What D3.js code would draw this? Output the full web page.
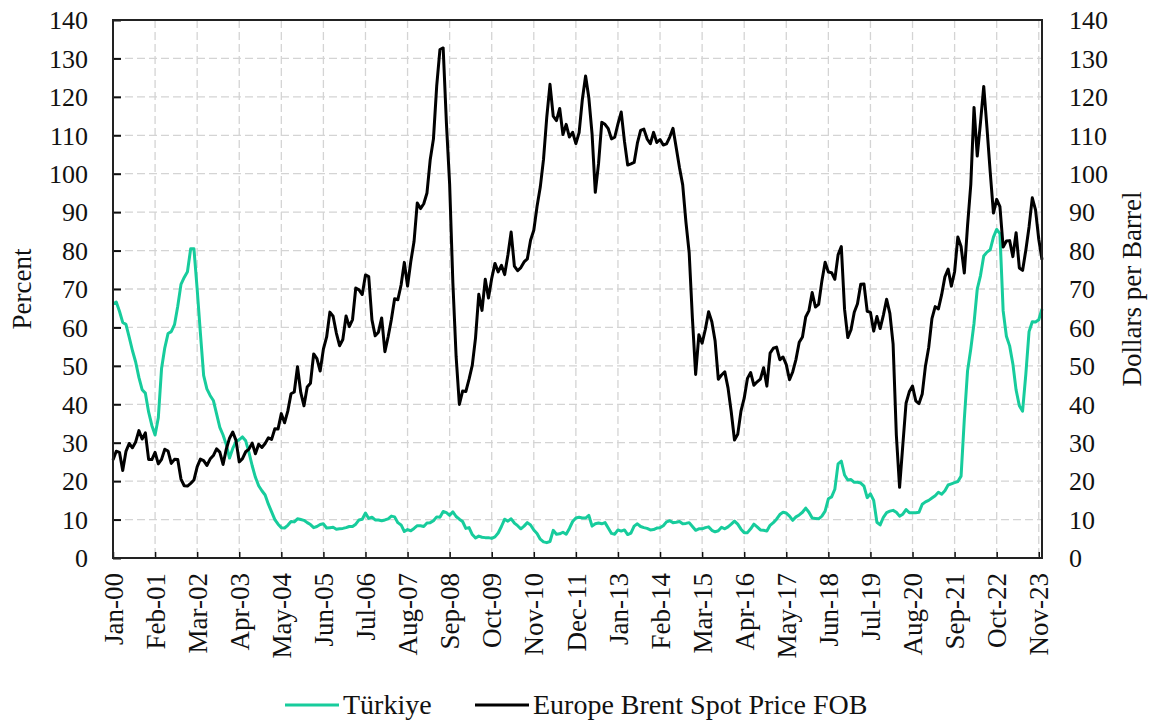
<!DOCTYPE html>
<html>
<head>
<meta charset="utf-8">
<script src="https://cdn.jsdelivr.net/npm/d3@7"></script>
<style>
  body { margin: 0; background: #fff; }
  svg text { font-family: "Liberation Serif", "Times New Roman", serif; fill: #111; }
</style>
</head>
<body>
<div id="graf"></div>
<script>
// monthly data, Jan-2000 .. Dec-2023

// Turkiye CPI inflation, annual % (left axis)
var turkiye = [
  66.1, 66.6, 64.2, 61.3, 60.8, 57.5, 54.0, 51.0, 47.0, 43.8, 42.9, 38.0,
  34.5, 32.0, 36.5, 49.3, 54.7, 58.4, 58.9, 60.7, 65.5, 71.2, 73.0, 74.5,
  80.5, 80.5, 70.0, 58.5, 47.5, 44.0, 42.3, 41.0, 37.5, 34.0, 32.0, 29.5,
  26.0, 28.5, 30.3, 30.8, 31.5, 30.5, 27.5, 24.0, 21.0, 18.8, 17.5, 16.4,
  14.0, 12.0, 10.0, 8.8, 7.9, 7.8, 8.5, 9.5, 9.4, 10.2, 10.0, 9.8,
  9.2, 8.7, 7.9, 8.2, 8.7, 8.9, 7.8, 7.9, 8.0, 7.5, 7.6, 7.7,
  7.9, 8.2, 8.2, 8.8, 9.9, 10.1, 11.7, 10.3, 10.6, 9.9, 9.9, 9.7,
  9.9, 10.2, 10.9, 10.7, 9.2, 8.6, 6.9, 7.4, 7.1, 7.7, 8.4, 8.4,
  8.2, 9.1, 9.2, 9.7, 10.7, 10.6, 12.1, 11.8, 11.1, 12.0, 10.8, 10.1,
  9.5, 7.7, 7.9, 6.1, 5.2, 5.7, 5.4, 5.3, 5.3, 5.1, 5.5, 6.5,
  8.2, 10.1, 9.6, 10.2, 9.1, 8.4, 7.6, 8.3, 9.2, 8.6, 7.3, 6.4,
  4.9, 4.2, 4.0, 4.3, 7.2, 6.2, 6.3, 6.7, 6.2, 7.7, 9.5, 10.4,
  10.6, 10.4, 10.4, 11.1, 8.3, 8.9, 9.1, 8.9, 9.2, 7.8, 6.4, 6.2,
  7.3, 7.0, 7.3, 6.1, 6.5, 8.3, 8.9, 8.2, 7.9, 7.7, 7.3, 7.4,
  7.8, 7.9, 8.4, 9.4, 9.7, 9.2, 9.3, 9.5, 8.9, 9.0, 9.2, 8.2,
  7.2, 7.6, 7.6, 7.9, 8.1, 7.2, 6.8, 7.1, 8.0, 7.6, 8.1, 8.8,
  9.6, 8.8, 7.5, 6.6, 6.6, 7.6, 8.8, 8.1, 7.3, 7.2, 7.0, 8.5,
  9.2, 10.1, 11.3, 11.9, 11.7, 10.9, 9.8, 10.7, 11.2, 11.9, 13.0, 11.9,
  10.4, 10.3, 10.2, 10.9, 12.2, 15.4, 15.9, 17.9, 24.5, 25.2, 21.6, 20.3,
  20.4, 19.7, 19.7, 19.5, 18.7, 15.7, 16.7, 15.0, 9.3, 8.6, 10.6, 11.8,
  12.2, 12.4, 11.9, 10.9, 11.4, 12.6, 11.8, 11.8, 11.8, 11.9, 14.0, 14.6,
  15.0, 15.6, 16.2, 17.1, 16.6, 17.5, 19.0, 19.3, 19.6, 19.9, 21.3, 36.1,
  48.7, 54.4, 61.1, 70.0, 73.5, 78.6, 79.6, 80.2, 83.5, 85.5, 84.4, 64.3,
  57.7, 55.2, 50.5, 43.7, 39.6, 38.2, 47.8, 58.9, 61.5, 61.4, 62.0, 64.8
]

// Europe Brent spot price FOB, $/barrel (right axis)
var brent = [
  25.51, 27.78, 27.49, 22.76, 27.74, 29.80, 28.68, 30.20, 33.14, 30.96, 32.55, 25.66,
  25.62, 27.50, 24.50, 25.66, 28.31, 27.85, 24.61, 25.68, 25.62, 20.54, 18.80, 18.71,
  19.42, 20.28, 23.70, 25.73, 25.35, 24.08, 25.74, 26.65, 28.40, 27.54, 24.34, 28.33,
  31.18, 32.77, 30.61, 25.00, 25.86, 27.65, 28.35, 29.89, 27.11, 29.61, 28.75, 29.81,
  31.28, 30.86, 33.63, 33.59, 37.57, 35.18, 38.22, 42.74, 43.20, 49.78, 43.11, 39.60,
  44.51, 45.48, 53.10, 51.88, 48.65, 54.35, 57.52, 63.98, 62.91, 58.54, 55.24, 56.86,
  62.99, 60.21, 62.06, 70.26, 69.78, 68.56, 73.67, 73.23, 61.96, 57.81, 58.76, 62.47,
  53.68, 57.56, 62.05, 67.49, 67.21, 71.05, 76.93, 70.76, 77.17, 82.34, 92.41, 90.93,
  92.18, 94.99, 103.64, 109.07, 122.80, 132.32, 132.72, 113.24, 97.23, 71.58, 52.45, 39.95,
  43.44, 43.32, 46.54, 50.18, 57.30, 68.61, 64.44, 72.51, 67.65, 72.77, 76.66, 74.46,
  76.17, 73.75, 78.83, 84.82, 75.95, 74.76, 75.58, 77.04, 77.84, 82.67, 85.28, 91.45,
  96.52, 103.72, 114.64, 123.26, 114.99, 113.83, 116.97, 110.22, 112.83, 109.55, 110.77, 107.87,
  110.69, 119.33, 125.45, 119.75, 110.34, 95.16, 102.62, 113.36, 112.86, 111.71, 109.06, 109.49,
  112.96, 116.05, 108.47, 102.25, 102.56, 102.92, 107.93, 111.28, 111.60, 109.08, 107.79, 110.76,
  108.12, 108.90, 107.48, 107.76, 109.54, 111.80, 106.77, 101.61, 97.09, 87.43, 79.44, 62.34,
  47.76, 58.10, 55.89, 59.52, 64.08, 61.48, 56.56, 46.52, 47.62, 48.43, 44.27, 38.01,
  30.70, 32.18, 38.21, 41.58, 46.74, 48.25, 44.95, 45.84, 46.57, 49.52, 44.73, 53.31,
  54.58, 54.87, 51.59, 52.31, 50.33, 46.37, 48.48, 51.70, 56.15, 57.51, 62.71, 64.37,
  69.08, 65.32, 66.02, 72.11, 76.98, 74.41, 74.25, 72.53, 78.89, 81.03, 64.75, 57.36,
  59.41, 63.96, 66.14, 71.23, 71.32, 64.22, 63.92, 59.04, 62.83, 59.71, 63.21, 67.31,
  63.65, 55.66, 32.01, 18.38, 29.38, 40.27, 43.24, 44.74, 40.91, 40.19, 42.69, 49.99,
  54.77, 62.28, 65.41, 64.81, 68.53, 73.16, 75.17, 70.75, 74.49, 83.54, 81.05, 74.17,
  86.51, 97.13, 117.25, 104.58, 113.34, 122.71, 111.93, 100.45, 89.76, 93.33, 91.42, 80.92,
  82.50, 82.59, 78.43, 84.64, 75.47, 74.84, 80.11, 86.15, 93.72, 90.60, 82.94, 77.63
]

// one label every 13 months
var xTickLabels = ['Jan-00', 'Feb-01', 'Mar-02', 'Apr-03', 'May-04', 'Jun-05', 'Jul-06',
  'Aug-07', 'Sep-08', 'Oct-09', 'Nov-10', 'Dec-11', 'Jan-13', 'Feb-14', 'Mar-15',
  'Apr-16', 'May-17', 'Jun-18', 'Jul-19', 'Aug-20', 'Sep-21', 'Oct-22', 'Nov-23']
var yTicks = [0, 10, 20, 30, 40, 50, 60, 70, 80, 90, 100, 110, 120, 130, 140]

var seriesNames = ['Türkiye', 'Europe Brent Spot Price FOB']
var seriesColors = ['#17cc9c', '#000000']

var ancho_total = 1157
var alto_total = 723
var margins = { top: 20, left: 113, right: 115, bottom: 165 }
var ancho = ancho_total - margins.left - margins.right
var alto = alto_total - margins.top - margins.bottom

var svg = d3.select('#graf').append('svg')
  .attr('width', ancho_total)
  .attr('height', alto_total)

var g = svg.append('g')
  .attr('transform', 'translate(' + margins.left + ',' + margins.top + ')')

var x = d3.scaleLinear().domain([0, turkiye.length - 1]).range([0, ancho])
var yL = d3.scaleLinear().domain([0, 140]).range([alto, 0])
var yR = d3.scaleLinear().domain([0, 140]).range([alto, 0])

var tickIdx = xTickLabels.map(function (d, i) { return i * 13 })

// grid
g.append('g').selectAll('line')
  .data(yTicks.slice(1, -1))
  .enter().append('line')
  .attr('x1', 0).attr('x2', ancho)
  .attr('y1', d => yL(d)).attr('y2', d => yL(d))
  .attr('stroke', '#d4d4d4').attr('stroke-width', 1.3)
  .attr('stroke-dasharray', '8,4')

g.append('g').selectAll('line')
  .data(tickIdx.slice(1))
  .enter().append('line')
  .attr('x1', d => x(d)).attr('x2', d => x(d))
  .attr('y1', 0).attr('y2', alto)
  .attr('stroke', '#d4d4d4').attr('stroke-width', 1.3)
  .attr('stroke-dasharray', '8,4')

// axes
var axL = g.append('g')
  .call(d3.axisLeft(yL).tickValues(yTicks).tickSizeInner(-8).tickSizeOuter(0).tickPadding(25))
axL.select('.domain').remove()
axL.selectAll('line').attr('stroke', '#111').attr('stroke-width', 2)
axL.selectAll('text').style('font-size', '26px').attr('dy', '0.34em')

var axR = g.append('g')
  .attr('transform', 'translate(' + ancho + ',0)')
  .call(d3.axisRight(yR).tickValues(yTicks).tickSize(0).tickPadding(27))
axR.select('.domain').remove()
axR.selectAll('text').style('font-size', '26px').attr('dy', '0.34em')

var axB = g.append('g')
  .attr('transform', 'translate(0,' + alto + ')')
  .call(d3.axisBottom(x).tickValues(tickIdx)
    .tickFormat(function (d, i) { return xTickLabels[i] })
    .tickSizeInner(-6).tickSizeOuter(0))
axB.select('.domain').remove()
axB.selectAll('line').attr('stroke', '#111').attr('stroke-width', 1.5)
axB.selectAll('text')
  .style('font-size', '27px')
  .style('text-anchor', 'end')
  .attr('x', -15)
  .attr('y', 0)
  .attr('dy', '0.34em')
  .attr('transform', 'rotate(-90)')

// axis titles
g.append('text')
  .attr('transform', 'translate(' + (-margins.left + 31) + ',' + (alto / 2) + ') rotate(-90)')
  .attr('text-anchor', 'middle')
  .style('font-size', '27px')
  .text('Percent')

g.append('text')
  .attr('transform', 'translate(' + (ancho + 99) + ',' + (alto / 2) + ') rotate(-90)')
  .attr('text-anchor', 'middle')
  .style('font-size', '27px')
  .text('Dollars per Barrel')

// lines
var lineL = d3.line().x((d, i) => x(i)).y(d => yL(d))
var lineR = d3.line().x((d, i) => x(i)).y(d => yR(d))

g.append('path')
  .datum(turkiye)
  .attr('d', lineL)
  .attr('fill', 'none')
  .attr('stroke', seriesColors[0])
  .attr('stroke-width', 3)
  .attr('stroke-linejoin', 'round')

g.append('path')
  .datum(brent)
  .attr('d', lineR)
  .attr('fill', 'none')
  .attr('stroke', seriesColors[1])
  .attr('stroke-width', 3)
  .attr('stroke-linejoin', 'round')

// frame
g.append('rect')
  .attr('x', 0).attr('y', 0)
  .attr('width', ancho).attr('height', alto)
  .attr('fill', 'none')
  .attr('stroke', '#222')
  .attr('stroke-width', 2)

// legend
var legendX = [285, 475]
var legend = svg.append('g').selectAll('g')
  .data(seriesNames)
  .enter().append('g')
  .attr('transform', (d, i) => 'translate(' + legendX[i] + ',705)')

legend.append('line')
  .attr('x1', 0).attr('x2', 54)
  .attr('stroke', (d, i) => seriesColors[i])
  .attr('stroke-width', 3)

legend.append('text')
  .attr('x', 58)
  .attr('dy', '0.33em')
  .style('font-size', '28px')
  .text(d => d)
</script>
</body>
</html>
